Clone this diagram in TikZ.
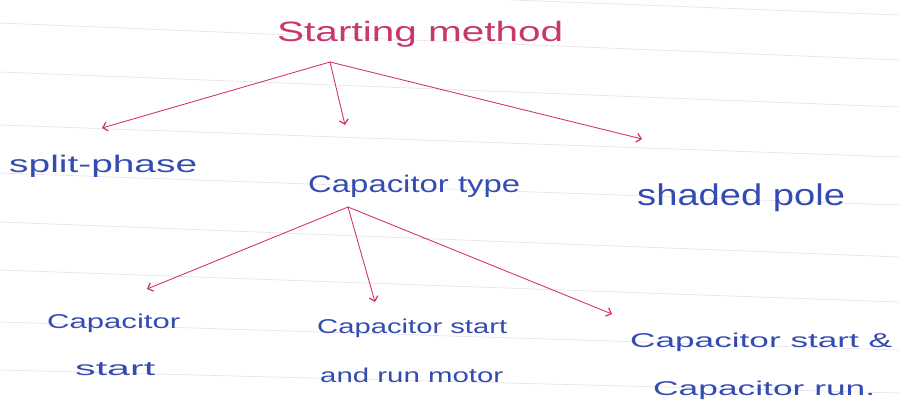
\documentclass[tikz,border=0pt]{standalone}
\usepackage{fontspec}
\setmainfont{Liberation Sans}
\usetikzlibrary{arrows.meta,calc}
\definecolor{ink}{RGB}{52,76,178}
\definecolor{redink}{RGB}{210,50,90}
\definecolor{pinkink}{RGB}{200,55,110}
\definecolor{ruleclr}{RGB}{226,226,230}
\newcommand{\hwtext}[2]{\resizebox{#1}{\height}{#2}}
\begin{document}
\begin{tikzpicture}[x=1pt,y=-1pt,
  ruleline/.style={ruleclr,line width=0.6pt},
  lbl/.style={text=ink,inner sep=0pt,anchor=base west,font=\fontsize{24}{24}\selectfont},
  small/.style={lbl,font=\fontsize{20}{20}\selectfont},
  arr/.style={redink,line width=0.85pt,line cap=round,-{Straight Barb[length=4.5pt,width=9pt,line width=1.2pt]}}]
\useasboundingbox (0,0) rectangle (899,402);
\fill[white] (0,0) rectangle (899,402);
% ruled paper
\foreach \l/\r in {-20/15,23/60,72/107,125/157,173/205,222/257,270/302,322/350,370/393}
  \draw[ruleline] (0,\l) -- (899,\r);
% headings
\node[lbl,text=pinkink,font=\fontsize{28}{28}\selectfont] (sm) at (277,41) {\hwtext{286pt}{Starting method}};
\node[lbl] (sp) at (9,172) {\hwtext{188pt}{split-phase}};
\node[lbl] (ct) at (308,192) {\hwtext{212pt}{Capacitor type}};
\node[lbl,font=\fontsize{30}{30}\selectfont] (shp) at (637,205) {\hwtext{208pt}{shaded pole}};
% bottom row
\node[small] (c1a) at (47,328) {\hwtext{133pt}{Capacitor}};
\node[small] (c1b) at (75,375) {\hwtext{80pt}{start}};
\node[small] (c2a) at (317,333) {\hwtext{190pt}{Capacitor start}};
\node[small] (c2b) at (320,382) {\hwtext{183pt}{and run motor}};
\node[small] (c3a) at (630,347) {\hwtext{262pt}{Capacitor start \&}};
\node[small] (c3b) at (653,395) {\hwtext{222pt}{Capacitor run.}};
% connector points
\coordinate (a1) at (330,62);
\coordinate (t1) at (102,128);
\coordinate (t2) at (345,125);
\coordinate (t3) at (642,139);
\coordinate (a2) at (348,207);
\coordinate (u1) at (147,289);
\coordinate (u2) at (375,302);
\coordinate (u3) at (612,314);
\draw[arr] (a1) -- (t1);
\draw[arr] (a1) -- (t2);
\draw[arr] (a1) -- (t3);
\draw[arr] (a2) -- (u1);
\draw[arr] (a2) -- (u2);
\draw[arr] (a2) -- (u3);
\end{tikzpicture}
\end{document}
